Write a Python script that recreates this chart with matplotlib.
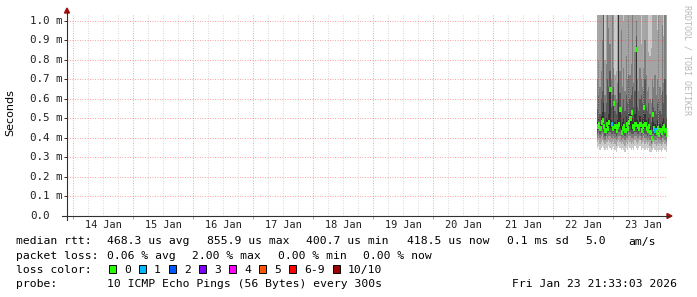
"""SmokePing-style latency graph: smoke bands of the 10 pings plus loss-coloured median."""
from datetime import datetime, timedelta

import matplotlib
matplotlib.use("Agg")
import matplotlib.pyplot as plt
import matplotlib.dates as mdates
from matplotlib import transforms
from matplotlib.lines import Line2D
from matplotlib.patches import Polygon, Rectangle

W, H = 697, 297
MONO = "DejaVu Sans Mono"

graph_start = datetime(2026, 1, 13, 21, 33, 3)
graph_end = datetime(2026, 1, 23, 21, 33, 3)
data_start = datetime(2026, 1, 22, 17, 30)
step = timedelta(minutes=30)

# values in milliseconds, one column per 30 min
median = [0.46, 0.47, 0.45, 0.48, 0.49, 0.46, 0.44, 0.47, 0.45, 0.48,
          0.65, 0.47, 0.45, 0.58, 0.46, 0.44, 0.46, 0.47, 0.55, 0.43,
          0.45, 0.46, 0.44, 0.47, 0.45, 0.48, 0.50, 0.53, 0.46, 0.45,
          0.47, 0.856, 0.46, 0.45, 0.47, 0.44, 0.46, 0.56, 0.47, 0.45,
          0.44, 0.46, 0.43, 0.401, 0.52, 0.45, 0.44, 0.43, 0.45, 0.42,
          0.44, 0.43, 0.45, 0.46, 0.44, 0.4185]
loss = [0, 0, 0, 0, 0, 0, 0, 0, 0, 0,
        0, 1, 0, 0, 0, 0, 0, 0, 0, 0,
        0, 0, 0, 0, 0, 0, 0, 0, 0, 0,
        0, 0, 0, 0, 0, 0, 0, 0, 0, 0,
        0, 0, 0, 0, 0, 0, 1, 0, 0, 0,
        0, 0, 0, 0, 0, 0]

# sorted ping times per column (ping1 = fastest ... ping10 = slowest)
ping1 = [0.35, 0.36, 0.34, 0.35, 0.36, 0.35, 0.34, 0.35, 0.34, 0.36,
         0.35, 0.34, 0.35, 0.36, 0.34, 0.33, 0.35, 0.36, 0.35, 0.34,
         0.35, 0.34, 0.33, 0.35, 0.34, 0.36, 0.35, 0.34, 0.35, 0.34,
         0.36, 0.35, 0.34, 0.35, 0.36, 0.34, 0.35, 0.35, 0.34, 0.35,
         0.34, 0.35, 0.33, 0.33, 0.34, 0.35, 0.34, 0.33, 0.34, 0.33,
         0.34, 0.33, 0.34, 0.35, 0.34, 0.33]
ping2 = [0.38, 0.39, 0.37, 0.38, 0.39, 0.38, 0.37, 0.38, 0.38, 0.39,
         0.38, 0.37, 0.38, 0.39, 0.37, 0.36, 0.38, 0.39, 0.38, 0.37,
         0.38, 0.37, 0.36, 0.38, 0.37, 0.39, 0.38, 0.37, 0.38, 0.37,
         0.39, 0.38, 0.37, 0.38, 0.39, 0.37, 0.38, 0.38, 0.37, 0.38,
         0.37, 0.38, 0.36, 0.35, 0.37, 0.38, 0.37, 0.36, 0.37, 0.36,
         0.37, 0.36, 0.37, 0.38, 0.37, 0.36]
ping3 = [0.40, 0.41, 0.40, 0.41, 0.42, 0.40, 0.39, 0.41, 0.40, 0.41,
         0.41, 0.40, 0.40, 0.41, 0.40, 0.39, 0.40, 0.41, 0.41, 0.39,
         0.40, 0.40, 0.39, 0.40, 0.40, 0.41, 0.41, 0.40, 0.40, 0.40,
         0.41, 0.41, 0.40, 0.40, 0.41, 0.39, 0.40, 0.41, 0.40, 0.40,
         0.39, 0.40, 0.39, 0.37, 0.40, 0.40, 0.39, 0.39, 0.40, 0.38,
         0.39, 0.38, 0.40, 0.40, 0.39, 0.38]
ping4 = [0.42, 0.43, 0.42, 0.43, 0.44, 0.43, 0.41, 0.43, 0.42, 0.43,
         0.43, 0.42, 0.42, 0.43, 0.42, 0.41, 0.42, 0.43, 0.43, 0.41,
         0.42, 0.42, 0.41, 0.43, 0.42, 0.43, 0.43, 0.42, 0.42, 0.42,
         0.43, 0.43, 0.42, 0.42, 0.43, 0.41, 0.42, 0.43, 0.42, 0.42,
         0.41, 0.42, 0.41, 0.38, 0.42, 0.42, 0.41, 0.41, 0.42, 0.40,
         0.41, 0.40, 0.42, 0.42, 0.41, 0.40]
ping5 = [0.44, 0.45, 0.44, 0.46, 0.47, 0.45, 0.43, 0.45, 0.44, 0.46,
         0.45, 0.45, 0.44, 0.45, 0.44, 0.43, 0.44, 0.45, 0.45, 0.42,
         0.44, 0.44, 0.43, 0.45, 0.44, 0.46, 0.46, 0.44, 0.44, 0.44,
         0.45, 0.45, 0.44, 0.44, 0.45, 0.43, 0.44, 0.45, 0.45, 0.44,
         0.43, 0.44, 0.42, 0.39, 0.44, 0.44, 0.43, 0.42, 0.44, 0.41,
         0.43, 0.42, 0.44, 0.44, 0.43, 0.41]
ping6 = [0.48, 0.50, 0.47, 0.51, 0.53, 0.58, 0.47, 0.50, 0.49, 0.52,
         0.66, 0.49, 0.48, 0.59, 0.48, 0.46, 0.49, 1.15, 0.56, 0.46,
         0.48, 0.50, 0.47, 0.51, 0.48, 0.52, 0.52, 0.54, 0.50, 0.48,
         0.52, 0.87, 0.49, 0.48, 0.51, 0.47, 0.50, 0.57, 0.52, 0.49,
         0.47, 0.50, 0.46, 0.41, 0.53, 0.48, 0.47, 0.46, 0.49, 0.45,
         0.47, 0.46, 0.48, 0.50, 0.47, 0.44]
ping7 = [0.55, 0.62, 0.52, 0.60, 0.64, 1.20, 0.53, 0.58, 0.70, 0.66,
         0.74, 0.56, 0.62, 0.66, 0.54, 0.52, 0.58, 1.20, 0.63, 0.52,
         0.56, 0.60, 0.54, 0.62, 0.58, 0.72, 0.60, 0.62, 0.66, 0.56,
         0.64, 0.92, 0.56, 0.54, 0.60, 0.62, 0.58, 0.64, 0.70, 0.56,
         0.54, 0.58, 0.52, 0.48, 0.60, 0.56, 0.54, 0.52, 0.58, 0.60,
         0.54, 0.52, 0.64, 0.58, 0.70, 0.50]
ping8 = [0.70, 0.80, 0.66, 0.74, 0.90, 1.25, 0.62, 0.78, 1.15, 0.96,
         0.88, 0.70, 1.10, 0.76, 0.62, 0.60, 0.68, 1.25, 0.74, 0.95,
         0.66, 0.76, 0.64, 0.82, 0.70, 1.10, 0.72, 0.78, 1.15, 0.68,
         0.84, 1.00, 0.70, 0.64, 0.76, 0.70, 0.66, 0.76, 0.90, 0.72,
         0.64, 0.66, 0.60, 0.58, 0.70, 0.66, 0.72, 0.62, 0.70, 1.10,
         0.66, 0.62, 0.98, 0.68, 1.15, 0.62]
ping9 = [1.20, 1.20, 1.20, 1.20, 1.20, 1.30, 0.80, 1.20, 1.20, 1.20,
         1.20, 1.20, 1.20, 1.20, 0.72, 0.74, 1.20, 1.30, 1.20, 1.20,
         1.20, 1.00, 1.20, 1.20, 1.20, 1.20, 1.20, 1.20, 1.20, 1.20,
         1.20, 1.20, 1.20, 1.20, 1.20, 0.88, 1.20, 1.20, 1.20, 1.20,
         1.20, 0.84, 0.82, 0.86, 1.20, 1.20, 1.20, 1.20, 0.95, 1.20,
         1.20, 1.20, 1.20, 0.92, 1.20, 1.20]
ping10 = [1.31, 1.35, 1.28, 1.40, 1.33, 1.45, 1.30, 1.36, 1.29, 1.38,
          1.42, 1.31, 1.34, 1.30, 1.37, 1.29, 1.33, 1.48, 1.35, 1.30,
          1.32, 1.36, 1.29, 1.34, 1.31, 1.39, 1.33, 1.30, 1.41, 1.32,
          1.35, 1.46, 1.30, 1.33, 1.36, 1.29, 1.34, 1.38, 1.31, 1.30,
          1.33, 1.35, 1.29, 1.32, 1.37, 1.31, 1.30, 1.34, 1.36, 1.29,
          1.33, 1.31, 1.38, 1.32, 1.35, 1.30]

y_levels = [0.0, 0.1, 0.2, 0.3, 0.4, 0.5, 0.6, 0.7, 0.8, 0.9, 1.0]
y_labels = ["0.0", "0.1 m", "0.2 m", "0.3 m", "0.4 m", "0.5 m",
            "0.6 m", "0.7 m", "0.8 m", "0.9 m", "1.0 m"]
day_labels = ["14 Jan", "15 Jan", "16 Jan", "17 Jan", "18 Jan",
              "19 Jan", "20 Jan", "21 Jan", "22 Jan", "23 Jan"]

loss_legend = ["0", "1", "2", "3", "4", "5", "6-9", "10/10"]
loss_palette = ["#26ff00", "#00b8ff", "#0059ff", "#7e00ff",
                "#ff00ff", "#ff5500", "#ff0000", "#a10000"]
smoke_colors = ["#cacaca", "#a4a4a4", "#7e7e7e", "#585858", "#323232"]


def fx(x):
    return x / W


def fy(y):
    return 1 - y / H


fig = plt.figure(figsize=(W / 100, H / 100), dpi=100)
fig.patch.set_facecolor("white")
ax = fig.add_axes([fx(67), fy(216), 600 / W, 201 / H])
ax.set_xlim(mdates.date2num(graph_start), mdates.date2num(graph_end))
ax.set_ylim(0, 1.029)
for s in ax.spines.values():
    s.set_visible(False)

# smoke: outer ping pairs light, inner pairs dark
t_edges = [mdates.date2num(data_start + k * step) for k in range(len(median) + 1)]
pings = [ping1, ping2, ping3, ping4, ping5, ping6, ping7, ping8, ping9, ping10]
for k, col in enumerate(smoke_colors):
    lo, hi = pings[k], pings[9 - k]
    ax.fill_between(t_edges, lo + [lo[-1]], hi + [hi[-1]], step="post",
                    color=col, linewidth=0, antialiased=False, zorder=1)

# median, coloured by number of lost pings
ax.hlines(median, t_edges[:-1], t_edges[1:], colors=[loss_palette[l] for l in loss],
          linewidth=2.2, antialiased=False, zorder=3)

# grid (drawn over the data like rrdtool does)
days = [datetime(2026, 1, 14) + timedelta(days=d) for d in range(10)]
for d in [datetime(2026, 1, 13)] + days:
    for h in (6, 12, 18):
        t = d + timedelta(hours=h)
        if graph_start < t < graph_end:
            ax.axvline(mdates.date2num(t), color="#c0c0c0", alpha=0.6, lw=0.72,
                       ls=(0, (1, 1.5)), zorder=4)
for d in days:
    ax.axvline(mdates.date2num(d), color="#ff2020", alpha=0.4, lw=0.72,
               ls=(0, (1, 1.5)), zorder=4)
for v in y_levels[1:]:
    ax.axhline(v, color="#ff2020", alpha=0.4, lw=0.72, ls=(0, (1, 1.5)), zorder=4)

ax.set_yticks(y_levels)
ax.set_yticklabels([])
ax.tick_params(axis="y", length=2.2, width=0.72, color="#303030", direction="out")
ax.set_xticks([mdates.date2num(d) for d in days])
ax.set_xticklabels([])
ax.tick_params(axis="x", length=2.2, width=0.72, color="#ff8080", direction="out")

ytr = transforms.blended_transform_factory(fig.transFigure, ax.transData)
for v, lab in zip(y_levels, y_labels):
    ax.text(fx(30), v, lab, transform=ytr, ha="left", va="center",
            fontsize=7.8, family=MONO, color="#202020")
xtr = transforms.blended_transform_factory(ax.transData, fig.transFigure)
for d, lab in zip(days, day_labels):
    ax.text(mdates.date2num(d + timedelta(hours=12)), fy(225), lab, transform=xtr,
            ha="center", va="center", fontsize=7.4, family=MONO, color="#202020")

# axes lines and arrows
fig.add_artist(Line2D([fx(67), fx(67)], [fy(220), fy(12)], color="#303030", lw=0.8))
fig.add_artist(Line2D([fx(62), fx(669)], [fy(216), fy(216)], color="#303030", lw=0.8))
fig.add_artist(Polygon([(fx(64.5), fy(13)), (fx(69.5), fy(13)), (fx(67), fy(8))],
                       closed=True, color="#a01010"))
fig.add_artist(Polygon([(fx(667), fy(213.5)), (fx(667), fy(218.5)), (fx(672), fy(216))],
                       closed=True, color="#a01010"))

fig.text(fx(10.5), fy(113), "Seconds", rotation=90, ha="center", va="center",
         fontsize=8, family="DejaVu Sans")
fig.text(fx(687), fy(5), "RRDTOOL / TOBI OETIKER", rotation=270, ha="center", va="top",
         fontsize=6, family=MONO, color="#b8b8b8")

# legend block
LEG = 8.2
rows = [
    (244.5, [(16, "median rtt:"), (107, "468.3 us avg"), (207, "855.9 us max"),
             (306, "400.7 us min"), (407, "418.5 us now"), (507, "0.1 ms sd"),
             (585, "5.0"), (628, "am/s")]),
    (258.7, [(16, "packet loss:"), (107, "0.06 % avg"), (192, "2.00 % max"),
             (278, "0.00 % min"), (363, "0.00 % now")]),
    (287.1, [(16, "probe:"), (107, "10 ICMP Echo Pings (56 Bytes) every 300s"),
             (512, "Fri Jan 23 21:33:03 2026")]),
]
for yb, items in rows:
    for x, s in items:
        fig.text(fx(x), fy(yb), s, ha="left", va="baseline", fontsize=LEG, family=MONO)

fig.text(fx(16), fy(272.9), "loss color:", ha="left", va="baseline", fontsize=LEG, family=MONO)
bx = 108.5
for lab, col in zip(loss_legend, loss_palette):
    fig.add_artist(Rectangle((fx(bx), fy(273)), 7 / W, 8 / H, facecolor=col,
                             edgecolor="black", lw=0.7))
    fig.text(fx(bx + 15.5), fy(272.9), lab, ha="left", va="baseline", fontsize=LEG, family=MONO)
    bx += 23 + 7 * len(lab)

fig.savefig("out.png", dpi=100, facecolor="white")
